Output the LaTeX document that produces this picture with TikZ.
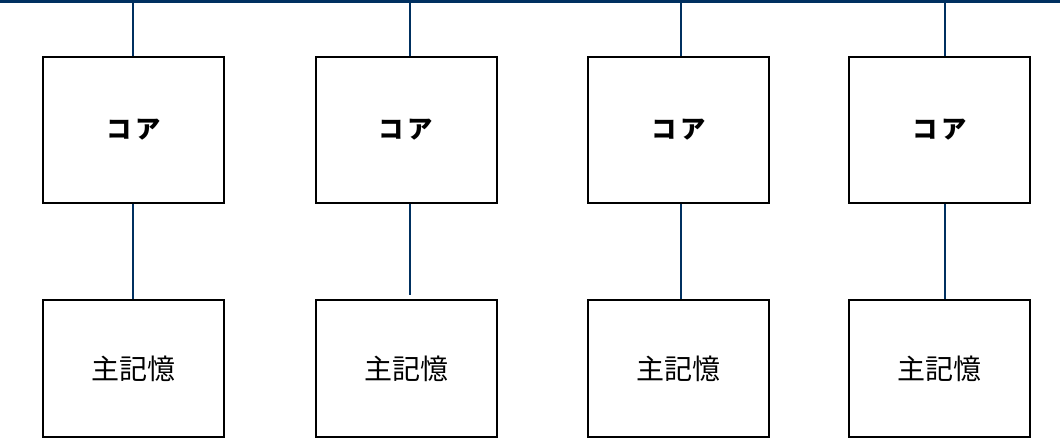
\documentclass[tikz,border=0pt]{standalone}
\usepackage{fontspec}
\newfontfamily\cjk{Noto Sans CJK JP}
\usepackage{tikz}
\usetikzlibrary{calc}
\definecolor{busblue}{RGB}{0,48,96}

\begin{document}
\begin{tikzpicture}[x=0.75pt, y=-0.75pt,
	core/.style={draw=black, line width=1.5pt, minimum width=135.75pt, minimum height=109.5pt, inner sep=0pt, font=\cjk\bfseries\fontsize{19pt}{21pt}\selectfont},
	memory/.style={draw=black, line width=1.5pt, minimum width=135.75pt, minimum height=102.75pt, inner sep=0pt, font=\cjk\fontsize{21pt}{23pt}\selectfont},
	wire/.style={busblue, line width=1.5pt}]
	\useasboundingbox (0,0) rectangle (1060,438);

	% Drawing the cores
	\node[core] (C1) at (133.5,130) {\raisebox{-2.25pt}{コ\hspace{3pt}ア}};
	\node[core] (C2) at (406,130) {\raisebox{-2.25pt}{コ\hspace{3pt}ア}};
	\node[core] (C3) at (678.5,130) {\raisebox{-2.25pt}{コ\hspace{3pt}ア}};
	\node[core] (C4) at (939.5,130) {\raisebox{-2.25pt}{コ\hspace{3pt}ア}};

	% Drawing the main memories
	\node[memory] (M1) at (133.5,368.5) {\raisebox{-1pt}{主記憶}};
	\node[memory] (M2) at (406,368.5) {\raisebox{-1pt}{主記憶}};
	\node[memory] (M3) at (678.5,368.5) {\raisebox{-1pt}{主記憶}};
	\node[memory] (M4) at (939.5,368.5) {\raisebox{-1pt}{主記憶}};

	% Drawing the bus
	\coordinate (L) at (0,1.5);
	\coordinate (R) at (1060,1.5);
	\coordinate (B1) at (133,1.5);
	\coordinate (B2) at (410,1.5);
	\coordinate (B3) at (681,1.5);
	\coordinate (B4) at (945,1.5);
	\draw[wire, line width=2pt] (L) -- (R);

	% Drawing the links
	\draw[wire] (B1) -- (B1 |- C1.north);
	\draw[wire] (B2) -- (B2 |- C2.north);
	\draw[wire] (B3) -- (B3 |- C3.north);
	\draw[wire] (B4) -- (B4 |- C4.north);
	\draw[wire] (B1 |- C1.south) -- (B1 |- M1.north);
	\draw[wire] (B2 |- C2.south) -- ($(B2 |- M2.north)+(0,-4)$);
	\draw[wire] (B3 |- C3.south) -- (B3 |- M3.north);
	\draw[wire] (B4 |- C4.south) -- (B4 |- M4.north);
\end{tikzpicture}
\end{document}
